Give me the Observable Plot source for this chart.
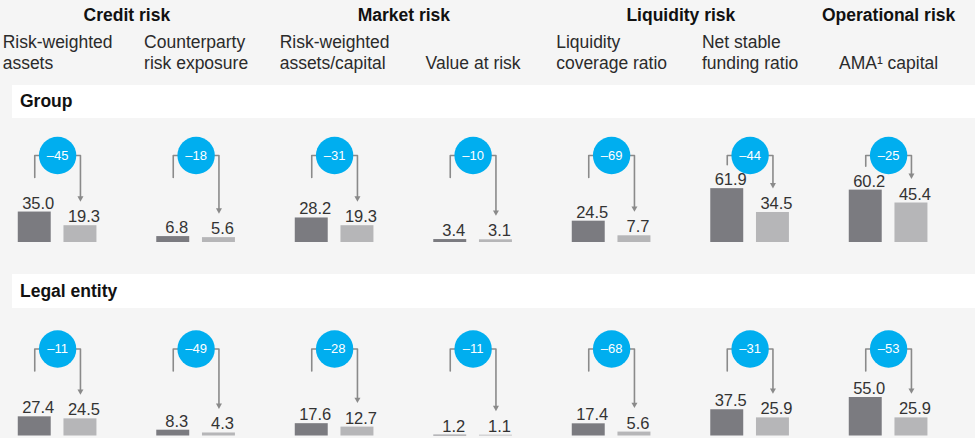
<!DOCTYPE html>
<html><head><meta charset="utf-8">
<script src="https://cdn.jsdelivr.net/npm/d3@7"></script>
<script src="https://cdn.jsdelivr.net/npm/@observablehq/plot@0.6"></script>
<style>
html,body{margin:0;padding:0;background:#f5f5f5;}
body{width:975px;height:438px;overflow:hidden;font-family:"Liberation Sans",Arial,sans-serif;}
.band{margin-left:12px;background:#fff;display:flex;align-items:center;padding-left:8px;font-weight:bold;font-size:17.5px;color:#111;box-sizing:border-box;}
svg{display:block;}
</style></head><body><div id="chart"></div>
<script>
// ---- data ----
const riskGroups = ["Credit risk", "Credit risk", "Market risk", "Market risk", "Liquidity risk", "Liquidity risk", "Operational risk"];
const metrics = ["Risk-weighted\nassets", "Counterparty\nrisk exposure", "Risk-weighted\nassets/capital", "Value at risk", "Liquidity\ncoverage ratio", "Net stable\nfunding ratio", "AMA\u00B9 capital"];
const rowLabels = ["Group", "Legal entity"];
const groupBefore = [35.0, 6.8, 28.2, 3.4, 24.5, 61.9, 60.2];
const groupAfter  = [19.3, 5.6, 19.3, 3.1, 7.7, 34.5, 45.4];
const groupChange = [-45, -18, -31, -10, -69, -44, -25];
const legalBefore = [27.4, 8.3, 17.6, 1.2, 17.4, 37.5, 55.0];
const legalAfter  = [24.5, 4.3, 12.7, 1.1, 5.6, 25.9, 25.9];
const legalChange = [-11, -49, -28, -11, -68, -31, -53];

// ---- layout ----
const W = 975, ML = 57.1, MR = 86.9;
const STEP = (W - ML - MR) / 6;
const FONT = "'Liberation Sans', Arial, sans-serif";
const SUBSIZE = 17.5;
const colDark = "#7b7b80", colLight = "#b6b6b8", colLine = "#8a8a8a", colBlue = "#00aeef";
const OFF = 0.165, HALF = 0.119; // in column units

const root = document.getElementById("chart");

// measure subtitle blocks so that left-aligned lines form a block centred on the column
const cv = document.createElement("canvas").getContext("2d");
cv.font = `${SUBSIZE}px 'Liberation Sans', Arial, sans-serif`;
const blockWidth = s => d3.max(s.split("\n"), l => cv.measureText(l).width);

// header
const metricRows = metrics.map((label, i) => ({i, label, left: i - blockWidth(label) / 2 / STEP}));
const titles = Array.from(d3.group(metricRows, d => riskGroups[d.i]), ([name, rows]) => ({name, x: d3.mean(rows, r => r.i)}));
const header = Plot.plot({
  width: W, height: 85, marginLeft: ML, marginRight: MR, marginTop: 0, marginBottom: 0,
  x: {domain: [0, 6], axis: null},
  style: {background: "#f5f5f5", fontFamily: FONT},
  marks: [
    Plot.text(titles, {x: "x", text: "name", frameAnchor: "top", dy: 20, lineAnchor: "bottom", fontWeight: "bold", fontSize: 17.5, fill: "#111"}),
    Plot.text(metricRows, {x: "left", text: "label", textAnchor: "start", frameAnchor: "top", dy: 68.5, lineAnchor: "bottom", lineHeight: 1.19, fontSize: SUBSIZE, fill: "#2b2b2b"})
  ]
});
root.appendChild(header);

const triDown = {
  draw(ctx, size) {
    const s = Math.sqrt(size / Math.PI);
    ctx.moveTo(-s, -s * 0.6); ctx.lineTo(s, -s * 0.6); ctx.lineTo(0, s * 1.2); ctx.closePath();
  }
};

function band(label, h) {
  const d = document.createElement("div");
  d.className = "band"; d.style.height = h + "px"; d.textContent = label;
  root.appendChild(d);
}

function rowPlot(before, after, change, k, height, marginBottom) {
  const Dmax = (height - marginBottom) / k;
  const recs = metrics.map((m, i) => ({i, before: before[i], after: after[i], change: change[i]}));
  const bars = recs.flatMap(d => [{i: d.i, p: 0, value: d.before}, {i: d.i, p: 1, value: d.after}]);
  const cx = d => d.p === 0 ? d.i - OFF : d.i + OFF;
  const cy = 87 / k;
  const tipV = d => d.after + 24 / k;
  const triV = d => tipV(d) + 3.6 / k;
  const bracket = recs.flatMap(d => {
    const left = Math.max(65 / k, d.before + 24 / k);
    return [
      {i: d.i, x: d.i - OFF, y: left},
      {i: d.i, x: d.i - OFF, y: cy},
      {i: d.i, x: d.i + OFF, y: cy},
      {i: d.i, x: d.i + OFF, y: triV(d)}
    ];
  });
  return Plot.plot({
    width: W, height, marginLeft: ML, marginRight: MR, marginTop: 0, marginBottom,
    x: {domain: [0, 6], axis: null},
    y: {domain: [0, Dmax], axis: null},
    style: {background: "#f5f5f5", fontFamily: FONT},
    marks: [
      Plot.rect(bars, {x1: d => cx(d) - HALF, x2: d => cx(d) + HALF, y1: 0, y2: "value", fill: d => d.p === 0 ? colDark : colLight}),
      Plot.text(bars, {x: cx, y: "value", text: d => d.value.toFixed(1), dy: -3.5, dx: 3.5, lineAnchor: "bottom", fontSize: 16.5, fill: "#333"}),
      Plot.line(bracket, {x: "x", y: "y", z: "i", stroke: colLine, strokeWidth: 1.6}),
      Plot.dot(recs, {x: d => d.i + OFF, y: triV, symbol: triDown, r: 3, fill: colLine, stroke: "none"}),
      Plot.dot(recs, {x: "i", y: () => cy, r: 18.7, fill: colBlue, stroke: "none"}),
      Plot.text(recs, {x: "i", y: () => cy, text: d => "\u2013" + Math.abs(d.change), fill: "#fff", fontSize: 13})
    ]
  });
}

band(rowLabels[0], 33);
root.appendChild(rowPlot(groupBefore, groupAfter, groupChange, 0.87, 156, 32));
band(rowLabels[1], 34);
root.appendChild(rowPlot(legalBefore, legalAfter, legalChange, 0.70, 130, 2.5));
</script>
</body></html>
